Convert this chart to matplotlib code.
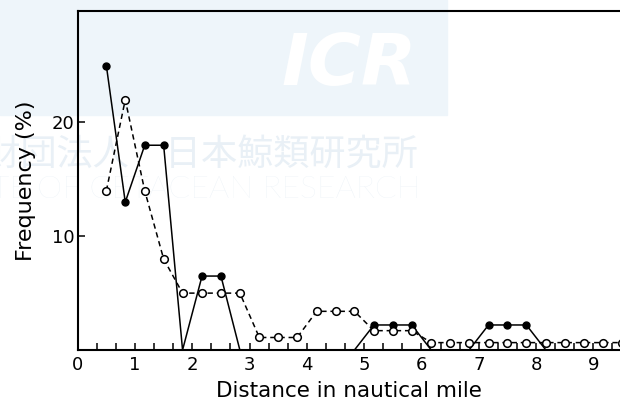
import numpy as np
import matplotlib
matplotlib.use("Agg")
import matplotlib.pyplot as plt
from matplotlib.patches import Rectangle
from matplotlib.ticker import MultipleLocator

# distance classes (1/3 nautical mile), class midpoints
distance = [0.5, 0.83, 1.17, 1.5, 1.83, 2.17, 2.5, 2.83, 3.17, 3.5,
            3.83, 4.17, 4.5, 4.83, 5.17, 5.5, 5.83, 6.17, 6.5, 6.83,
            7.17, 7.5, 7.83, 8.17, 8.5, 8.83, 9.17, 9.5]

# frequency (%) - filled circles, solid line
freq_solid = [25, 13, 18, 18, 0, 6.5, 6.5, 0, 0, 0,
              0, 0, 0, 0, 2.2, 2.2, 2.2, 0, 0, 0,
              2.2, 2.2, 2.2, 0, 0, 0, 0, 0]

# frequency (%) - open circles, dashed line
freq_open = [14, 22, 14, 8, 5, 5, 5, 5, 1.1, 1.1,
             1.1, 3.4, 3.4, 3.4, 1.7, 1.7, 1.7, 0.65, 0.65, 0.65,
             0.65, 0.65, 0.65, 0.65, 0.65, 0.65, 0.65, 0.65]

x_major = [0, 1, 2, 3, 4, 5, 6, 7, 8, 9]
y_ticks = [10, 20]

W, H = 620, 415
fig = plt.figure(figsize=(W / 100, H / 100), dpi=100)

# scanned-page watermark, kept behind the chart
fig.patches.append(Rectangle((0, 1 - 115 / H), 447 / W, 115 / H,
                             transform=fig.transFigure, color="#eef5fa", zorder=0))
fig.text(349 / W, 1 - 66 / H, "ICR", color="white", fontsize=52,
         fontweight="bold", fontstyle="italic", ha="center", va="center", zorder=1)
fig.text(418 / W, 1 - 155 / H, "一般財団法人\u3000日本鯨類研究所", color="#e9f0f6",
         fontsize=26, family=["Noto Sans CJK JP", "DejaVu Sans"],
         ha="right", va="center", zorder=1)
fig.text(421 / W, 1 - 190 / H, "THE INSTITUTE OF CETACEAN RESEARCH", color="#e9f0f6",
         fontsize=23, family=["Lato", "DejaVu Sans"], fontweight="light",
         ha="right", va="center", zorder=1)

left, bottom = 77.7 / W, 1 - 350 / H
ax = fig.add_axes([left, bottom, 1 - left, (350 - 11) / H])
ax.set_zorder(3)
ax.patch.set_alpha(0)

nz = [i for i, v in enumerate(freq_solid) if v > 0]
ax.plot(distance, freq_solid, "-", color="black", lw=1.1,
        marker="o", ms=5, mfc="black", mec="black", markevery=nz)
ax.plot(distance, freq_open, color="black", lw=1.1, linestyle=(0, (3.5, 2.5)),
        marker="o", ms=5.5, mfc="white", mec="black", mew=1.1)

ax.set_xlim(0, (W - 77.7) / 57.3)
ax.set_ylim(0, 29.8)
ax.xaxis.set_minor_locator(MultipleLocator(1 / 3))
ax.set_xticks(x_major)
ax.set_yticks(y_ticks)

ax.spines["right"].set_visible(False)
for s in ["left", "top", "bottom"]:
    ax.spines[s].set_linewidth(1.5)

ax.tick_params(axis="x", which="both", direction="in", length=5, width=1.1,
               labelsize=13, pad=4)
ax.tick_params(axis="y", which="both", direction="in", length=5, width=1.1,
               labelsize=13, pad=2.5)

ax.set_xlabel("Distance in nautical mile", fontsize=15.5, labelpad=5)
ax.set_ylabel("Frequency (%)", fontsize=16)
ax.yaxis.set_label_coords(-0.077, 0.5)

fig.savefig("out.png", dpi=100)
